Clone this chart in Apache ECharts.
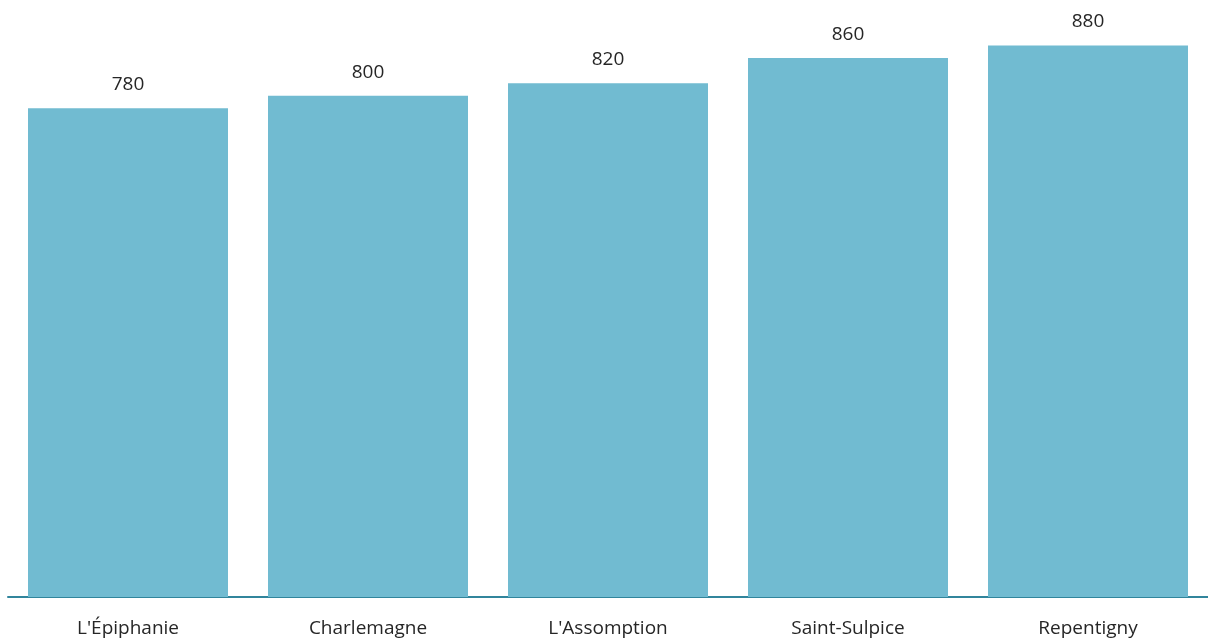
<!DOCTYPE html>
<html>
<head>
<meta charset="utf-8">
<script src="https://cdn.jsdelivr.net/npm/echarts@6/dist/echarts.min.js"></script>
<style>
  html, body { margin: 0; padding: 0; background: #fff; }
  #chart { width: 1208px; height: 639px; }
</style>
</head>
<body>
<div id="chart"></div>
<script>
var categories = ["L'Épiphanie", 'Charlemagne', "L'Assomption", 'Saint-Sulpice', 'Repentigny'];
var values = [780, 800, 820, 860, 880];

var myChart = echarts.init(document.getElementById('chart'), null, { renderer: 'canvas' });

var option = {
  animation: false,
  grid: { left: 8, right: -4, top: 33, bottom: 42, containLabel: false },
  xAxis: {
    type: 'category',
    data: categories,
    axisLine: { lineStyle: { color: '#31859C', width: 2 } },
    axisTick: { show: false },
    axisLabel: {
      color: '#262626',
      fontSize: 19,
      fontFamily: 'Open Sans',
      margin: 22
    }
  },
  yAxis: {
    type: 'value',
    min: 0,
    max: 900,
    show: false,
    splitLine: { show: false }
  },
  series: [
    {
      type: 'bar',
      data: values,
      barWidth: 200,
      itemStyle: { color: '#71BBD1' },
      label: {
        show: true,
        position: 'top',
        distance: 14,
        color: '#262626',
        fontSize: 19,
        fontFamily: 'Open Sans'
      }
    }
  ]
};

myChart.setOption(option);
window.addEventListener('resize', myChart.resize);
</script>
</body>
</html>
